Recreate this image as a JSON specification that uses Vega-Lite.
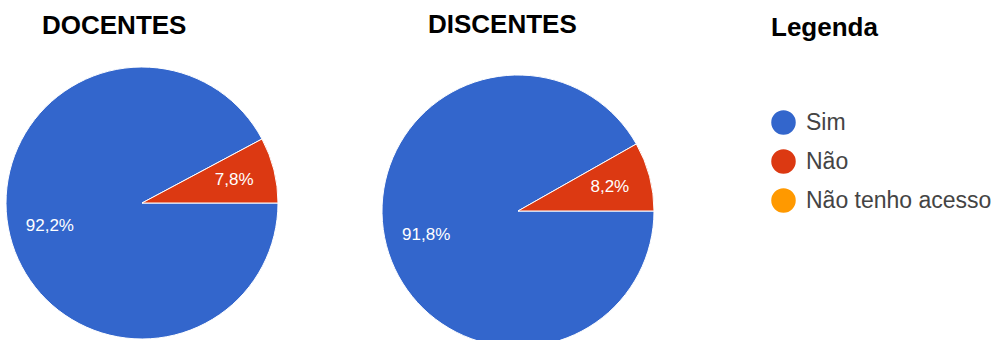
{
  "$schema": "https://vega.github.io/schema/vega-lite/v6.json",
  "padding": {"left": 4, "top": 12, "right": 0, "bottom": 0},
  "background": "#ffffff",
  "config": {"font": "Liberation Sans", "view": {"stroke": null}},
  "datasets": {
    "pizza": [
      {"grupo": "DOCENTES", "resposta": "Sim", "valor": 92.2, "rotulo": "92,2%", "ordem": 1},
      {"grupo": "DOCENTES", "resposta": "Não", "valor": 7.8, "rotulo": "7,8%", "ordem": 2},
      {"grupo": "DISCENTES", "resposta": "Sim", "valor": 91.8, "rotulo": "91,8%", "ordem": 1},
      {"grupo": "DISCENTES", "resposta": "Não", "valor": 8.2, "rotulo": "8,2%", "ordem": 2}
    ]
  },
  "spacing": 100,
  "resolve": {"scale": {"theta": "independent"}},
  "hconcat": [
    {
      "title": {"text": "DOCENTES", "anchor": "start", "frame": "group", "dx": 36, "fontSize": 26, "fontWeight": "bold", "color": "#000000", "offset": 26},
      "width": 272,
      "height": 272,
      "data": {"name": "pizza"},
      "transform": [{"filter": "datum.grupo == 'DOCENTES'"}],
      "encoding": {
        "theta": {"field": "valor", "type": "quantitative", "stack": true, "scale": {"range": [1.5708, 7.854]}},
        "order": {"field": "ordem", "type": "quantitative"}
      },
      "layer": [
        {
          "mark": {"type": "arc", "stroke": "#ffffff", "strokeWidth": 1},
          "encoding": {
            "color": {
              "field": "resposta", "type": "nominal",
              "scale": {"domain": ["Sim", "Não", "Não tenho acesso"], "range": ["#3366cc", "#dc3912", "#ff9900"]},
              "legend": {"orient": "none", "legendX": 765, "legendY": -52, "title": "Legenda", "titleFontSize": 26, "titleFontWeight": "bold", "titleColor": "#000000", "titlePadding": 69, "symbolType": "circle", "symbolSize": 600, "symbolStrokeWidth": 0, "symbolOpacity": 1, "labelFontSize": 23, "labelColor": "#444444", "labelOffset": 10, "rowPadding": 14, "labelLimit": 300, "padding": 0}
            }
          }
        },
        {
          "mark": {"type": "text", "radius": 95, "fontSize": 17, "color": "#ffffff"},
          "encoding": {"text": {"field": "rotulo", "type": "nominal"}}
        }
      ]
    },
    {
      "title": {"text": "DISCENTES", "anchor": "start", "frame": "group", "dx": 46, "dy": -3, "fontSize": 26, "fontWeight": "bold", "color": "#000000", "offset": 26},
      "width": 272,
      "height": 288,
      "data": {"name": "pizza"},
      "transform": [{"filter": "datum.grupo == 'DISCENTES'"}],
      "encoding": {
        "theta": {"field": "valor", "type": "quantitative", "stack": true, "scale": {"range": [1.5708, 7.854]}},
        "order": {"field": "ordem", "type": "quantitative"}
      },
      "layer": [
        {
          "mark": {"type": "arc", "stroke": "#ffffff", "strokeWidth": 1},
          "encoding": {
            "color": {
              "field": "resposta", "type": "nominal",
              "scale": {"domain": ["Sim", "Não", "Não tenho acesso"], "range": ["#3366cc", "#dc3912", "#ff9900"]},
              "legend": {"orient": "none", "legendX": 765, "legendY": -52, "title": "Legenda", "titleFontSize": 26, "titleFontWeight": "bold", "titleColor": "#000000", "titlePadding": 69, "symbolType": "circle", "symbolSize": 600, "symbolStrokeWidth": 0, "symbolOpacity": 1, "labelFontSize": 23, "labelColor": "#444444", "labelOffset": 10, "rowPadding": 14, "labelLimit": 300, "padding": 0}
            }
          }
        },
        {
          "mark": {"type": "text", "radius": 95, "fontSize": 17, "color": "#ffffff"},
          "encoding": {"text": {"field": "rotulo", "type": "nominal"}}
        }
      ]
    }
  ]
}
